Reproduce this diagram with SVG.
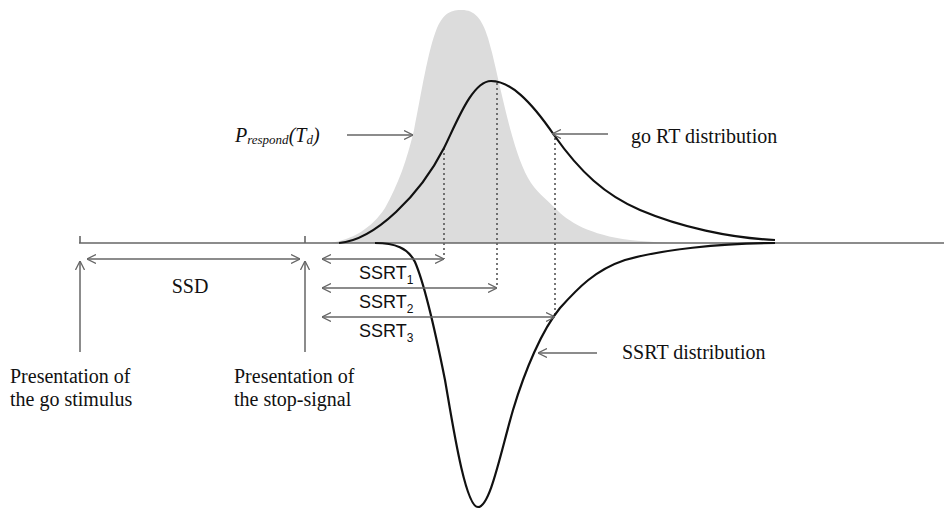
<svg xmlns="http://www.w3.org/2000/svg" width="944" height="509" viewBox="0 0 944 509">
<style>
.serif{font-family:"Liberation Serif","Times New Roman",serif;font-size:20px;fill:#111}
.sans{font-family:"Liberation Sans",Arial,sans-serif;font-size:18px;fill:#111}
.arr{stroke:#666;stroke-width:1.5;fill:none}
.curve{stroke:#111;stroke-width:2.2;fill:none}
.dot{stroke:#555;stroke-width:1.6;stroke-dasharray:2 3;fill:none}
.axis{stroke:#666;stroke-width:1.6;fill:none}
</style>
<defs>
<marker id="head" viewBox="0 0 10 10" refX="10" refY="5" markerWidth="9" markerHeight="10" markerUnits="userSpaceOnUse" orient="auto-start-reverse">
<path d="M0,0 L10,5 L0,10" fill="none" stroke="#666" stroke-width="1.4"/>
</marker>
</defs>
<rect width="944" height="509" fill="#fff"/>
<g id="gray-distribution">
<path d="M330,243 C352,240 372,228 385,208 C398,185 407,160 414,130 C421,95 428,50 437,28 C444,12 452,10 462,10 C474,10 482,18 488,38 C494,58 498,80 503,100 C510,130 518,160 528,178 C536,192 545,198 555,208 C568,222 590,235 630,240 C650,242 665,243 680,243 Z" fill="#dcdcdc"/>
</g>
<g id="dotted-lines">
<line class="dot" x1="444" y1="148" x2="444" y2="259"/>
<line class="dot" x1="497" y1="83" x2="497" y2="288"/>
<line class="dot" x1="555" y1="138" x2="555" y2="317"/>
</g>
<g id="axis">
<line class="axis" x1="79" y1="243" x2="944" y2="243"/>
<line class="axis" x1="80" y1="236" x2="80" y2="243"/>
<line class="axis" x1="305" y1="236" x2="305" y2="243"/>
</g>
<g id="go-rt-curve">
<path class="curve" d="M339,243 C375,240 420,195 444,148 C456,124 472,81 491,81 C510,81 530,100 554,135 C580,172 605,195 640,210 C680,227 730,238 775,240"/>
</g>
<g id="ssrt-curve">
<path class="curve" d="M375,243 C395,243 408,248 415,262 C425,285 435,330 445,380 C452,420 465,507 478,507 C490,507 500,455 513,410 C525,370 542,330 560,308 C578,288 595,270 625,260 C660,250 720,243 775,243"/>
</g>
<g id="connectors">
<line class="arr" x1="87" y1="259" x2="300" y2="259" marker-start="url(#head)" marker-end="url(#head)"/>
<line class="arr" x1="80" y1="352" x2="80" y2="261" marker-end="url(#head)"/>
<line class="arr" x1="305" y1="352" x2="305" y2="261" marker-end="url(#head)"/>
<line class="arr" x1="322" y1="259" x2="444" y2="259" marker-start="url(#head)" marker-end="url(#head)"/>
<line class="arr" x1="322" y1="288" x2="497" y2="288" marker-start="url(#head)" marker-end="url(#head)"/>
<line class="arr" x1="322" y1="317" x2="555" y2="317" marker-start="url(#head)" marker-end="url(#head)"/>
<line class="arr" x1="347" y1="135" x2="413" y2="135" marker-end="url(#head)"/>
<line class="arr" x1="608" y1="134" x2="552" y2="134" marker-end="url(#head)"/>
<line class="arr" x1="597" y1="353" x2="538" y2="353" marker-end="url(#head)"/>
</g>
<g id="label-prespond">
<text class="serif" x="235" y="142" font-style="italic">P<tspan font-size="13" dy="2">respond</tspan><tspan dy="-2">(T</tspan><tspan font-size="13" dy="2">d</tspan><tspan dy="-2">)</tspan></text>
</g>
<g id="label-go-rt"><text class="serif" x="631" y="143">go RT distribution</text></g>
<g id="label-ssrt-dist"><text class="serif" x="622" y="359">SSRT distribution</text></g>
<g id="label-ssd"><text class="serif" x="190" y="293" text-anchor="middle">SSD</text></g>
<g id="label-go-stimulus">
<text class="serif" x="10" y="383">Presentation of</text>
<text class="serif" x="10" y="406">the go stimulus</text>
</g>
<g id="label-stop-signal">
<text class="serif" x="234" y="383">Presentation of</text>
<text class="serif" x="234" y="406">the stop-signal</text>
</g>
<g id="label-ssrt1"><text class="sans" x="359" y="279">SSRT<tspan font-size="12" dy="5">1</tspan></text></g>
<g id="label-ssrt2"><text class="sans" x="359" y="308">SSRT<tspan font-size="12" dy="5">2</tspan></text></g>
<g id="label-ssrt3"><text class="sans" x="359" y="337">SSRT<tspan font-size="12" dy="5">3</tspan></text></g>
</svg>
